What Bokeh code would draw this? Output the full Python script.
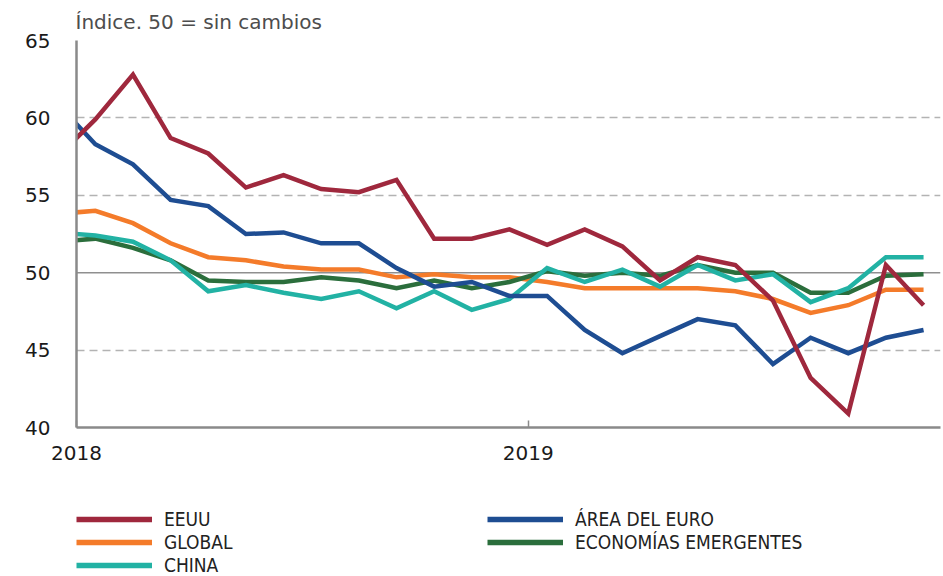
from bokeh.plotting import figure
from bokeh.layouts import column
from bokeh.models import Range1d, FixedTicker, Span, Legend
from bokeh.embed import file_html
from bokeh.resources import INLINE

# ---- data (monthly PMI-type index, 50 = no change) ----
months = ["2017-12",
          "2018-01", "2018-02", "2018-03", "2018-04", "2018-05", "2018-06",
          "2018-07", "2018-08", "2018-09", "2018-10", "2018-11", "2018-12",
          "2019-01", "2019-02", "2019-03", "2019-04", "2019-05", "2019-06",
          "2019-07", "2019-08", "2019-09", "2019-10", "2019-11"]

eeuu = [57.5, 59.9, 62.8, 58.7, 57.7, 55.5, 56.3, 55.4, 55.2, 56.0, 52.2, 52.2,
        52.8, 51.8, 52.8, 51.7, 49.5, 51.0, 50.5, 48.2, 43.2, 40.9, 50.5, 47.9]
area_euro = [60.9, 58.3, 57.0, 54.7, 54.3, 52.5, 52.6, 51.9, 51.9, 50.3, 49.1, 49.4,
             48.5, 48.5, 46.3, 44.8, 45.9, 47.0, 46.6, 44.1, 45.8, 44.8, 45.8, 46.3]
global_ = [53.8, 54.0, 53.2, 51.9, 51.0, 50.8, 50.4, 50.2, 50.2, 49.7, 49.9, 49.7,
           49.7, 49.4, 49.0, 49.0, 49.0, 49.0, 48.8, 48.3, 47.4, 47.9, 48.9, 48.9]
emergentes = [52.0, 52.2, 51.6, 50.8, 49.5, 49.4, 49.4, 49.7, 49.5, 49.0, 49.5, 49.0,
              49.4, 50.1, 49.8, 50.0, 49.8, 50.5, 50.0, 50.0, 48.7, 48.7, 49.8, 49.9]
china = [52.6, 52.4, 52.0, 50.8, 48.8, 49.2, 48.7, 48.3, 48.8, 47.7, 48.8, 47.6,
         48.3, 50.3, 49.4, 50.2, 49.1, 50.5, 49.5, 49.9, 48.1, 49.0, 51.0, 51.0]

year_ticks = [0, 12]
year_labels = ["2018", "2019"]
y_ticks = [40, 45, 50, 55, 60, 65]
title_text = "Índice. 50 = sin cambios"

names = ["EEUU", "GLOBAL", "CHINA", "ÁREA DEL EURO", "ECONOMÍAS EMERGENTES"]
colors = {"EEUU": "#9f283d", "ÁREA DEL EURO": "#1e4d92", "GLOBAL": "#f47b2a",
          "ECONOMÍAS EMERGENTES": "#2b6e3c", "CHINA": "#22b2a4"}
series = {"EEUU": eeuu, "ÁREA DEL EURO": area_euro, "GLOBAL": global_,
          "ECONOMÍAS EMERGENTES": emergentes, "CHINA": china}
draw_order = ["GLOBAL", "ECONOMÍAS EMERGENTES", "CHINA", "ÁREA DEL EURO", "EEUU"]


def month_pos(m):
    y, mo = map(int, m.split("-"))
    return (y - 2018) * 12 + (mo - 1) + 0.5


x = [month_pos(m) for m in months]

# ---------------- main chart ----------------
p = figure(width=943, height=480, output_backend="svg", toolbar_location=None,
           x_range=Range1d(0, 22.95), y_range=Range1d(40, 65),
           min_border_left=76, min_border_right=3, min_border_top=40,
           min_border_bottom=53)
p.outline_line_color = None

p.title.text = title_text
p.title.align = "left"
p.title.text_font = "DejaVu Sans"
p.title.text_font_size = "20px"
p.title.text_font_style = "normal"
p.title.text_color = "#4d4d4d"
p.title.standoff = 14
p.title.offset = -1

# grid
p.xgrid.visible = False
p.ygrid.ticker = FixedTicker(ticks=[t for t in y_ticks if t not in (40, 50)])
p.ygrid.grid_line_color = "#b3b3b3"
p.ygrid.grid_line_width = 1.5
p.ygrid.grid_line_dash = "8 5"
p.add_layout(Span(location=50, dimension="width", line_color="#8f8f8f",
                  line_width=1.5, level="underlay"))

# axes
for ax in (p.xaxis[0], p.yaxis[0]):
    ax.axis_line_color = "#8a8a8a"
    ax.axis_line_width = 2.5
    ax.minor_tick_line_color = None
    ax.major_label_text_font = "DejaVu Sans"
    ax.major_label_text_font_size = "20px"
    ax.major_label_text_color = "#1a1a1a"

p.xaxis.ticker = FixedTicker(ticks=year_ticks)
p.xaxis.major_label_overrides = {t: l for t, l in zip(year_ticks, year_labels)}
p.xaxis.major_tick_in = 7
p.xaxis.major_tick_out = 0
p.xaxis.major_tick_line_color = "#8a8a8a"
p.xaxis.major_tick_line_width = 1.5
p.xaxis.major_label_standoff = 18

p.yaxis.ticker = FixedTicker(ticks=y_ticks)
p.yaxis.major_tick_in = 0
p.yaxis.major_tick_out = 0
p.yaxis.major_label_standoff = 26

for name in draw_order:
    p.line(x, series[name], line_color=colors[name], line_width=4.5,
           line_join="miter")

# ---------------- legend strip ----------------
nan = float("nan")
leg = figure(width=943, height=96, output_backend="svg", toolbar_location=None,
             x_range=Range1d(0, 1), y_range=Range1d(0, 1),
             x_axis_type=None, y_axis_type=None,
             min_border_left=0, min_border_right=0, min_border_top=0,
             min_border_bottom=0)
leg.outline_line_color = None
leg.xgrid.visible = False
leg.ygrid.visible = False

leg_renderers = {}
for name in names:
    leg_renderers[name] = leg.line([nan], [nan], line_color=colors[name],
                                   line_width=5.5)

legend = Legend(items=[(n, [leg_renderers[n]]) for n in names],
                location=(0, 0), orientation="vertical", ncols=2,
                margin=0, padding=0, spacing=1,
                glyph_width=76, glyph_height=22, label_height=22,
                label_width=322, label_standoff=12,
                label_text_font="DejaVu Sans Condensed",
                label_text_font_size="19px", label_text_color="#222222",
                border_line_color=None, background_fill_alpha=0)
leg.add_layout(legend)

open("out.html", "w").write(file_html(column(p, leg, spacing=0), INLINE))
